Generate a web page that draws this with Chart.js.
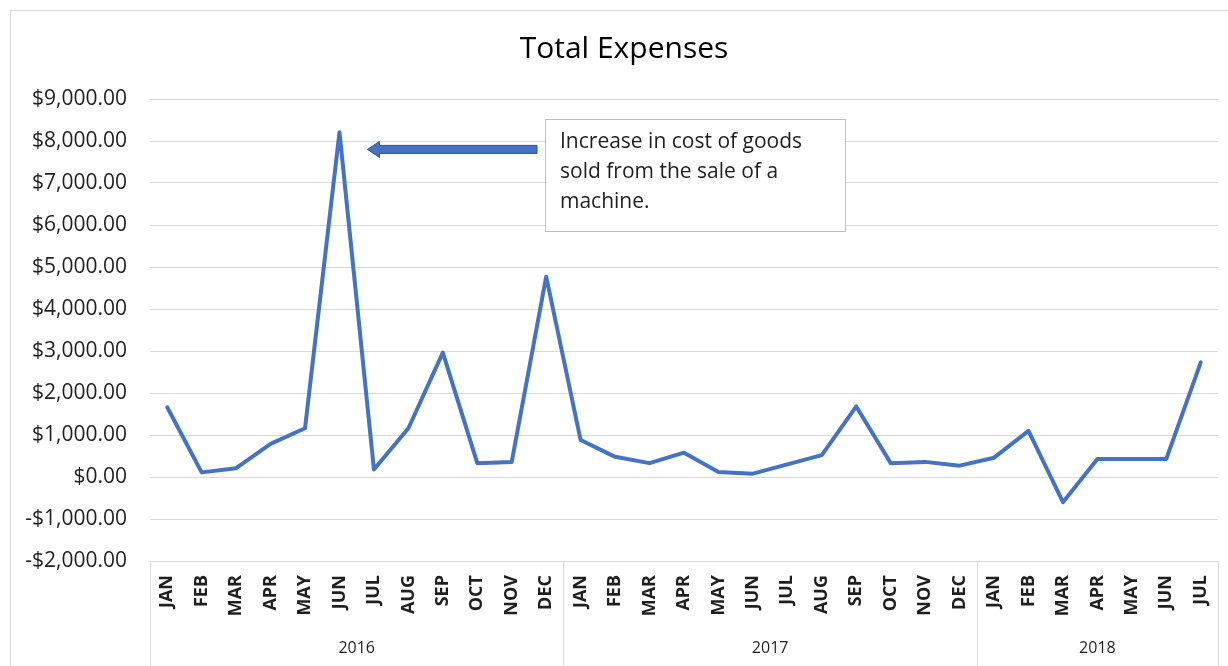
<!DOCTYPE html>
<html>
<head>
<meta charset="utf-8">
<title>Total Expenses</title>
<script src="https://cdn.jsdelivr.net/npm/chart.js@4"></script>
<style>
  html, body { margin: 0; padding: 0; background: #fff; }
  #wrap { width: 1228px; height: 666px; position: relative; }
</style>
</head>
<body>
<div id="wrap"><canvas id="expensesChart"></canvas></div>
<script>
// chart data
const chartTitle = "Total Expenses";
const years = ["2016", "2017", "2018"];
const months = ["JAN", "FEB", "MAR", "APR", "MAY", "JUN", "JUL", "AUG", "SEP", "OCT", "NOV", "DEC"];
const monthsPerYear = [12, 12, 7];
const expenses2016 = [1660, 110, 210, 790, 1160, 8210, 180, 1160, 2960, 330, 360, 4770];
const expenses2017 = [880, 480, 330, 580, 120, 80, 300, 520, 1680, 330, 360, 270];
const expenses2018 = [460, 1100, -600, 430, 430, 430, 2730];
const yMin = -2000;
const yMax = 9000;
const yStep = 1000;
const noteLines = ["Increase in cost of goods", "sold from the sale of a", "machine."];
const noteIndex = 5; // the JUN 2016 spike the arrow points at

const labels = [];
monthsPerYear.forEach((n) => labels.push(...months.slice(0, n)));
const expenses = [...expenses2016, ...expenses2017, ...expenses2018];

const gridGrey = "#d9d9d9";
const textColor = "#1f1f1f";
const font = "'Open Sans', 'DejaVu Sans', sans-serif";

const excelFrame = {
  id: "excelFrame",
  beforeDraw(chart) {
    const ctx = chart.ctx;
    ctx.save();
    ctx.fillStyle = "#fff";
    ctx.fillRect(0, 0, chart.width, chart.height);
    ctx.strokeStyle = gridGrey;
    ctx.lineWidth = 1;
    ctx.strokeRect(10.5, 10.5, chart.width + 20, chart.height + 20);
    ctx.restore();
  },
  afterDraw(chart) {
    const { ctx, chartArea } = chart;
    const x = chart.scales.x;
    const y = chart.scales.y;
    const half = (x.getPixelForValue(1) - x.getPixelForValue(0)) / 2;

    ctx.save();
    // title, Excel puts it a little right of the canvas centre
    ctx.fillStyle = "#000";
    ctx.font = "30px " + font;
    ctx.textAlign = "center";
    ctx.textBaseline = "alphabetic";
    ctx.fillText(chartTitle, 624, 58);

    // year groups under the month labels
    ctx.strokeStyle = gridGrey;
    ctx.lineWidth = 1;
    ctx.fillStyle = textColor;
    ctx.font = "16px " + font;
    ctx.textBaseline = "middle";
    let start = 0;
    let left = chartArea.left;
    const edges = [left];
    years.forEach((yr, i) => {
      const end = start + monthsPerYear[i];
      const right = i === years.length - 1 ? chartArea.right : x.getPixelForValue(end - 1) + half;
      edges.push(right);
      ctx.fillText(yr, (left + right) / 2, chartArea.bottom + 87);
      left = right;
      start = end;
    });
    edges.forEach((ex) => {
      const px = Math.round(ex) + 0.5;
      ctx.beginPath();
      ctx.moveTo(px, chartArea.bottom);
      ctx.lineTo(px, chart.height);
      ctx.stroke();
    });

    // note box
    const boxX = 545, boxY = 119, boxW = 300, boxH = 112;
    ctx.fillStyle = "#fff";
    ctx.fillRect(boxX, boxY, boxW, boxH);
    ctx.strokeStyle = "#bfbfbf";
    ctx.strokeRect(boxX + 0.5, boxY + 0.5, boxW, boxH);
    ctx.fillStyle = textColor;
    ctx.font = "21px " + font;
    ctx.textAlign = "left";
    noteLines.forEach((line, i) => ctx.fillText(line, boxX + 15, boxY + 23 + i * 30));

    // arrow pointing at the spike
    const tipX = x.getPixelForValue(noteIndex) + 28;
    const ay = y.getPixelForValue(7800);
    const tailX = boxX - 8;
    const shaft = 4, headH = 8, headL = 12;
    ctx.beginPath();
    ctx.moveTo(tailX, ay - shaft);
    ctx.lineTo(tipX + headL, ay - shaft);
    ctx.lineTo(tipX + headL, ay - headH);
    ctx.lineTo(tipX, ay);
    ctx.lineTo(tipX + headL, ay + headH);
    ctx.lineTo(tipX + headL, ay + shaft);
    ctx.lineTo(tailX, ay + shaft);
    ctx.closePath();
    ctx.fillStyle = "#4472C4";
    ctx.fill();
    ctx.strokeStyle = "#2F528F";
    ctx.lineWidth = 1;
    ctx.stroke();
    ctx.restore();
  },
};

new Chart(document.getElementById("expensesChart"), {
  type: "line",
  data: {
    labels: labels,
    datasets: [
      {
        label: chartTitle,
        data: expenses,
        borderColor: "#4472C4",
        borderWidth: 4,
        pointRadius: 0,
        tension: 0,
        borderJoinStyle: "round",
        borderCapStyle: "round",
        clip: false,
      },
    ],
  },
  options: {
    responsive: true,
    maintainAspectRatio: false,
    animation: false,
    layout: { padding: { top: 99, left: 0, right: 10, bottom: 0 } },
    plugins: {
      legend: { display: false },
      tooltip: { enabled: false },
      title: { display: false },
    },
    scales: {
      x: {
        offset: true,
        grid: { display: false, drawTicks: false },
        border: { display: true, color: gridGrey },
        ticks: {
          autoSkip: false,
          minRotation: 90,
          maxRotation: 90,
          padding: 14,
          color: textColor,
          font: { family: font, size: 18, weight: "bold" },
        },
        afterFit(scale) {
          scale.height = 105;
          scale.paddingLeft = 0;
          scale.paddingRight = 0;
        },
      },
      y: {
        min: yMin,
        max: yMax,
        grid: { color: gridGrey, drawTicks: false },
        border: { display: false },
        ticks: {
          stepSize: yStep,
          padding: 23,
          color: textColor,
          font: { family: font, size: 21 },
          callback: (v) =>
            (v < 0 ? "-$" : "$") +
            Math.abs(v).toLocaleString("en-US", { minimumFractionDigits: 2, maximumFractionDigits: 2 }),
        },
        afterFit(scale) {
          scale.width = 150;
        },
      },
    },
  },
  plugins: [excelFrame],
});
</script>
</body>
</html>
